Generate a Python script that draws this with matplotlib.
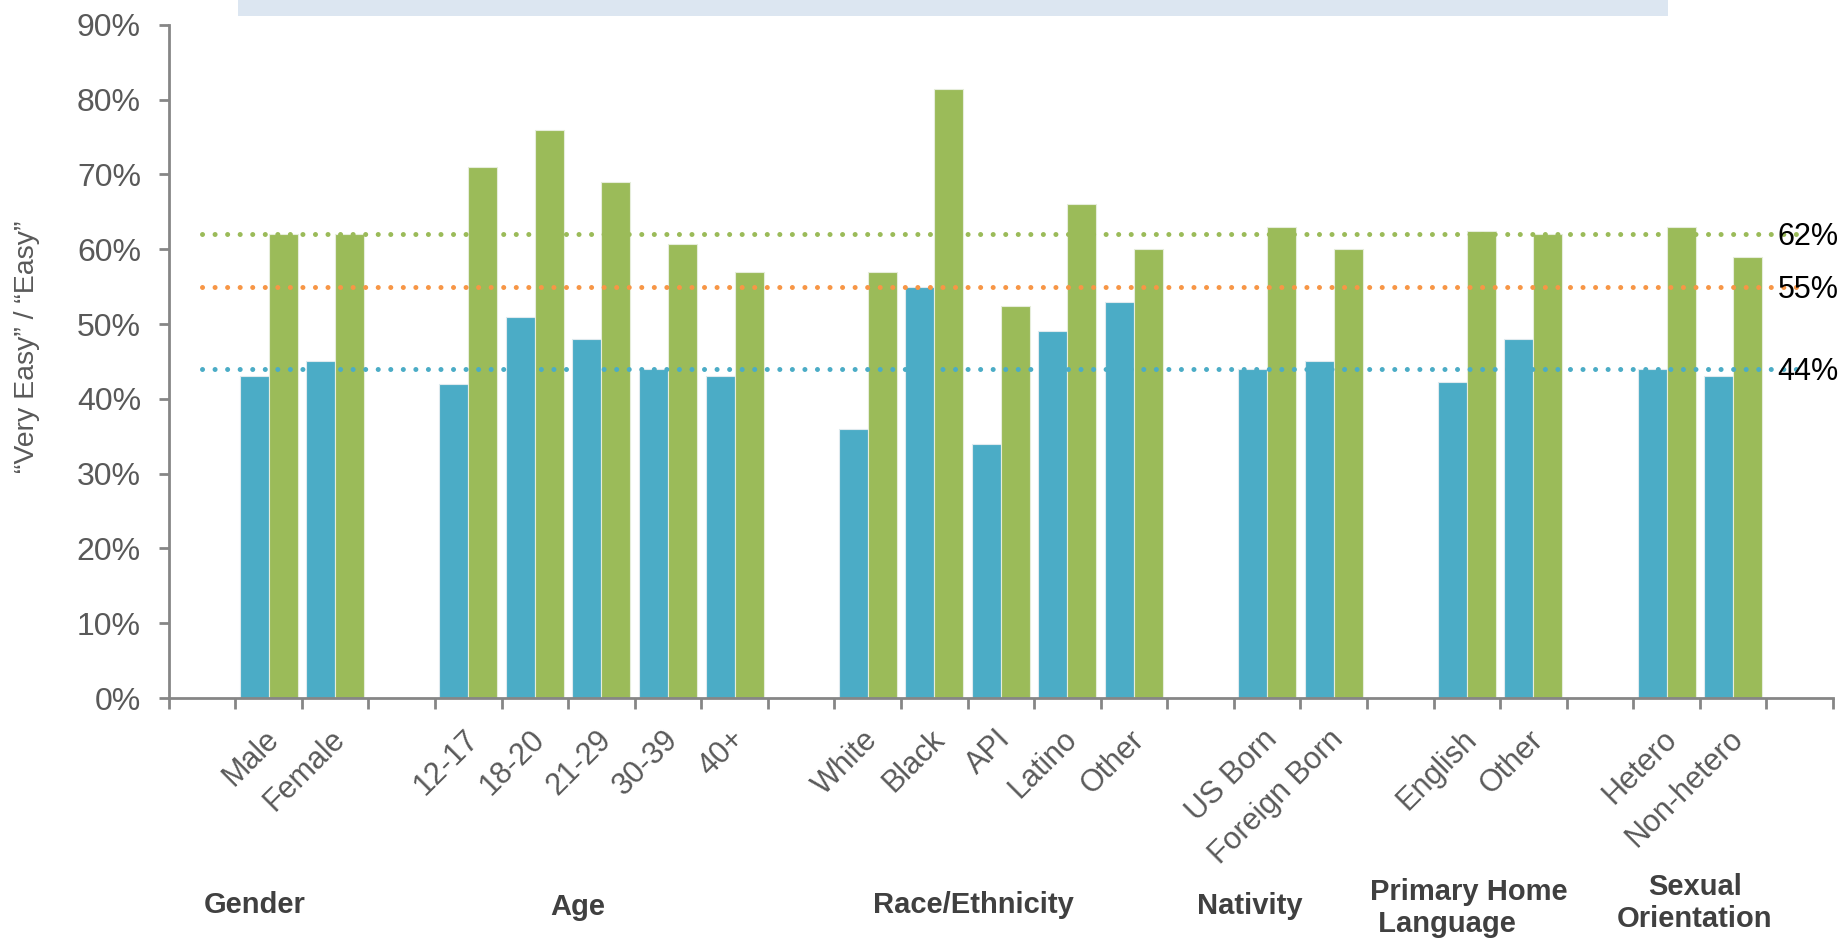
import matplotlib
matplotlib.use("Agg")
import matplotlib.pyplot as plt
from matplotlib.patches import Rectangle
from matplotlib.ticker import FuncFormatter
from matplotlib.transforms import ScaledTranslation
import numpy as np

plt.rcParams['font.family'] = ['Liberation Sans', 'DejaVu Sans']

# ---- data -------------------------------------------------------------
groups = ["Gender", "Age", "Race/Ethnicity", "Nativity",
          "Primary Home\n Language", "Sexual\nOrientation"]
members = [
    ["Male", "Female"],
    ["12-17", "18-20", "21-29", "30-39", "40+"],
    ["White", "Black", "API", "Latino", "Other"],
    ["US Born", "Foreign Born"],
    ["English", "Other"],
    ["Hetero", "Non-hetero"],
]
series_blue = [43, 45,
               42, 51, 48, 44, 43,
               36, 55, 34, 49, 53,
               44, 45,
               42.2, 48,
               44, 43]
series_green = [62, 62,
                71, 76, 69, 60.7, 57,
                57, 81.4, 52.4, 66, 60,
                63, 60,
                62.4, 62,
                63, 59]
benchmarks = [44, 55, 62]
benchmark_labels = ["44%", "55%", "62%"]

# ---- colours ----------------------------------------------------------
BLUE = "#4BACC6"
GREEN = "#9BBB59"
ORANGE = "#F79646"
AXIS = "#868686"
TEXT = "#595959"
benchmark_colors = [BLUE, ORANGE, GREEN]

# ---- category positions: one empty slot before each group -------------
positions, labels = [], []
slot = 1
for grp in members:
    for name in grp:
        positions.append(slot)
        labels.append(name)
        slot += 1
    slot += 1
n_slots = slot  # last slot stays empty
positions = np.array(positions, dtype=float)

W, H = 1845, 940
fig = plt.figure(figsize=(W / 100, H / 100), dpi=100)
ax = fig.add_axes([168.7 / W, 242 / H, (1833 - 168.7) / W, (698 - 24.8) / H])

bw = 0.436
ax.bar(positions - bw / 2, series_blue, width=bw, color=BLUE,
       edgecolor="#dfeaee", linewidth=0.8, zorder=2)
ax.bar(positions + bw / 2, series_green, width=bw, color=GREEN,
       edgecolor="#e6eddb", linewidth=0.8, zorder=2)

# dotted benchmark lines across the chart
for val, col, lab in zip(benchmarks, benchmark_colors, benchmark_labels):
    ax.plot([0, n_slots - 1], [val, val], color=col, lw=3.6,
            linestyle=(0, (0.01, 2.5)), dash_capstyle="round", zorder=3)
    ax.text(n_slots - 1.33, val - 0.4, lab, ha="left", va="center",
            fontsize=22, color="black", zorder=4, clip_on=False)

ax.set_xlim(-0.5, n_slots - 0.5)
ax.set_ylim(0, 90)

# axes styling
for side in ("top", "right"):
    ax.spines[side].set_visible(False)
for side in ("left", "bottom"):
    ax.spines[side].set_color(AXIS)
    ax.spines[side].set_linewidth(2)

ax.set_yticks(np.arange(0, 91, 10))
ax.yaxis.set_major_formatter(FuncFormatter(lambda v, p: f"{int(v)}%"))
ax.tick_params(axis="y", direction="out", length=7, width=2, color=AXIS,
               labelsize=23, labelcolor=TEXT, pad=13)

ax.set_xticks(np.arange(-0.5, n_slots, 1.0))
ax.set_xticklabels([])
ax.set_xticks(positions, minor=True)
ax.set_xticklabels(labels, minor=True, rotation=45, ha="right",
                   rotation_mode="anchor", fontsize=22, color=TEXT)
ax.tick_params(axis="x", which="major", direction="out", length=8, width=2,
               color=AXIS)
ax.tick_params(axis="x", which="minor", length=0, pad=19)
shift = ScaledTranslation(-5 / 100, 0, fig.dpi_scale_trans)
for lbl in ax.get_xticklabels(minor=True):
    lbl.set_transform(lbl.get_transform() + shift)

# y-axis title
fig.text(27 / W, 1 - 347 / H, "\u201cVery Easy\u201d / \u201cEasy\u201d",
         rotation=90, ha="center", va="center", fontsize=20.5, color=TEXT)

# group headings under the category labels
heading_style = dict(fontsize=21, fontweight="bold", color="#404040",
                     va="center")
fig.text(255 / W, 1 - 905 / H, groups[0], ha="center", **heading_style)
fig.text(578 / W, 1 - 907 / H, groups[1], ha="center", **heading_style)
fig.text(973 / W, 1 - 905 / H, groups[2], ha="center", **heading_style)
fig.text(1250 / W, 1 - 906 / H, groups[3], ha="center", **heading_style)
fig.text(1370 / W, 1 - 908 / H, groups[4], ha="left", ma="left",
         linespacing=1.2, **heading_style)
fig.text(1695 / W, 1 - 903 / H, groups[5], ha="center", ma="center",
         linespacing=1.2, **heading_style)

# header band along the top edge
fig.patches.append(Rectangle((238 / W, 1 - 16 / H), (1668 - 238) / W,
                             0.03, transform=fig.transFigure,
                             facecolor="#DCE6F1", edgecolor="none",
                             zorder=0))

fig.savefig("out.png", dpi=100, facecolor="white")
